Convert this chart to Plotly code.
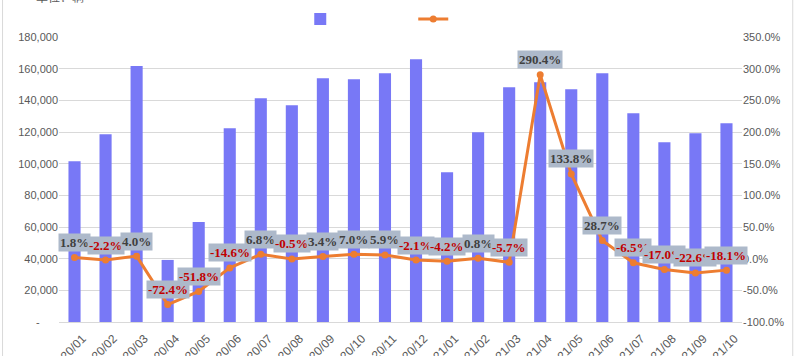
import plotly.graph_objects as go

months = ["2020/01","2020/02","2020/03","2020/04","2020/05","2020/06","2020/07","2020/08",
          "2020/09","2020/10","2020/11","2020/12","2021/01","2021/02","2021/03","2021/04",
          "2021/05","2021/06","2021/07","2021/08","2021/09","2021/10"]
sales = [101600, 118600, 161700, 39200, 63100, 122400, 141300, 136900, 153900, 153300,
         157100, 165900, 94600, 119900, 148300, 151400, 147000, 157100, 131900, 113600,
         119200, 125600]
yoy = [1.8, -2.2, 4.0, -72.4, -51.8, -14.6, 6.8, -0.5, 3.4, 7.0, 5.9, -2.1, -4.2, 0.8,
       -5.7, 290.4, 133.8, 28.7, -6.5, -17.0, -22.6, -18.1]
left_ticks = [0, 20000, 40000, 60000, 80000, 100000, 120000, 140000, 160000, 180000]
left_text = ["-" + "\u00a0" * 6] + [f"{v:,}" for v in left_ticks[1:]]
right_ticks = [-100, -50, 0, 50, 100, 150, 200, 250, 300, 350]
right_text = [f"{v:.1f}%" for v in right_ticks]

W, H = 795, 356
L, R, T, B = 58.5, 52.8, 37, 34
pw = W - L - R
ph = H - T - B

fig = go.Figure()
fig.add_trace(go.Bar(x=months, y=sales, name=" ", marker_color="#7878F6",
                     marker_line_width=0, width=0.39, yaxis="y"))
fig.add_trace(go.Scatter(x=months, y=yoy, name=" ", mode="lines+markers", yaxis="y2",
                         line=dict(color="#ED7D31", width=3),
                         marker=dict(color="#ED7D31", size=7)))

for m, v in zip(months, yoy):
    fig.add_annotation(x=m, y=v, xref="x", yref="y2", yshift=15,
                       text=f"{v:.1f}%", showarrow=False,
                       bgcolor="#ADB9CA", borderpad=1,
                       font=dict(family="Liberation Serif", size=13,
                                 color="#C00000" if v < 0 else "#404040",
                                 weight="bold"))

fig.add_annotation(x=(33 - L) / pw, y=1 + (T + 3) / ph, xref="paper", yref="paper",
                   yshift=11, text="单位：辆", showarrow=False,
                   font=dict(family="Noto Sans CJK SC", size=12, color="#595959"))

fig.update_layout(
    width=W, height=H,
    margin=dict(l=L, r=R, t=T, b=B, autoexpand=False),
    paper_bgcolor="white", plot_bgcolor="white",
    showlegend=True,
    legend=dict(orientation="h", x=(300 - L) / pw, xanchor="left",
                y=1 + (T - 19) / ph, yanchor="middle", entrywidth=68,
                font=dict(size=11, color="#595959"), bgcolor="rgba(0,0,0,0)"),
    font=dict(family="Liberation Sans", size=11, color="#595959"),
    xaxis=dict(type="category", tickangle=-45, showgrid=False, showline=True,
               linecolor="#D9D9D9", ticks="", tickfont=dict(size=12, color="#595959"),
               ticklabelstandoff=4, ticklabelshift=8,
               range=[-0.5, len(months) - 0.5]),
    yaxis=dict(range=[0, 180000], tickvals=left_ticks, ticktext=left_text,
               showgrid=True, gridcolor="#D9D9D9", gridwidth=1, zeroline=False,
               ticks="", tickfont=dict(size=11, color="#595959")),
    yaxis2=dict(range=[-100, 350], tickvals=right_ticks, ticktext=right_text,
                overlaying="y", side="right", showgrid=False, zeroline=False,
                ticks="", tickfont=dict(size=11, color="#595959")),
)

fig.add_shape(type="rect", xref="paper", yref="paper",
              x0=(2 - L) / pw, x1=(793 - L) / pw, y0=-(B + 40) / ph, y1=1 + (T + 40) / ph,
              line=dict(color="#D9D9D9", width=1), layer="below")

fig.write_html("out.html", config={"displayModeBar": False},
               post_script="document.body.style.margin='0';document.body.style.overflow='hidden';")
